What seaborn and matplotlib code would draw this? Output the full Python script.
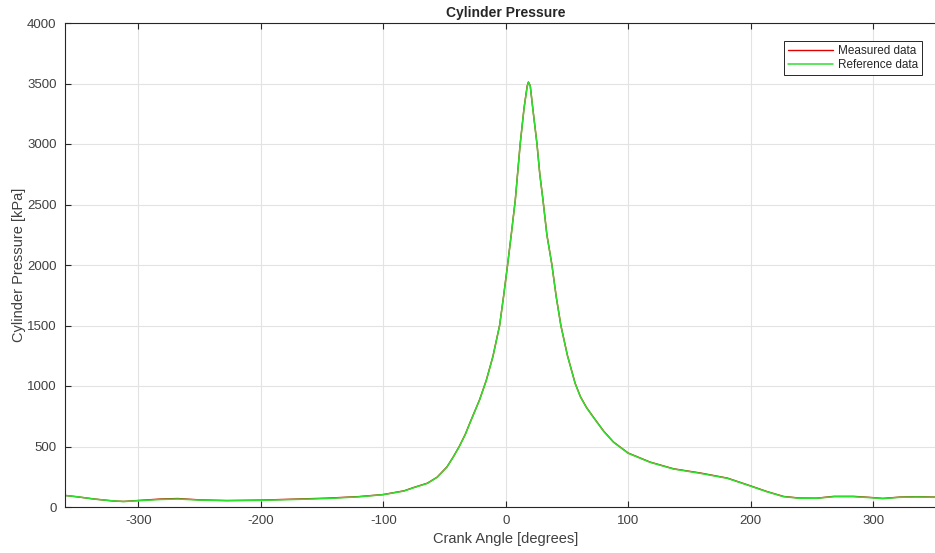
import pandas as pd
import numpy as np
import matplotlib
matplotlib.use('Agg')
import matplotlib.pyplot as plt
import seaborn as sns

# crank angle [deg] and cylinder pressure [kPa]
angle = [-360, -350, -336, -320, -312, -300, -282, -268, -250, -228, -200,
         -173, -146, -120, -100, -83, -75, -64, -56, -48, -43, -38, -33, -29,
         -21.4, -15.9, -10.5, -5, -1.8, 1.5, 4.5, 7.8, 11.8, 15, 17.5, 18.5,
         20, 22, 25.5, 27.8, 30.4, 33.6, 37.7, 41.2, 45, 50.4, 56.7, 61, 66,
         72, 80, 88, 100, 118, 137, 159, 181, 199, 213, 227, 240, 254, 268,
         284, 298, 308, 322, 336, 349, 360]

reference = [95, 85, 65, 50, 45, 52, 62, 66, 57, 53, 55,
             62, 70, 84, 102, 132, 160, 195, 245, 330, 410, 498, 600, 700,
             884, 1045, 1242, 1500, 1738, 2000, 2250, 2537, 3000, 3300, 3470, 3510,
             3480, 3300, 3000, 2750, 2537, 2248, 2000, 1738, 1500, 1250, 1020, 910, 820,
             735, 625, 535, 444, 369, 314, 278, 237, 176, 127, 85, 72, 72, 85,
             85, 77, 69, 80, 83, 80, 82]

measured = [96, 84, 66, 49, 46, 54, 66, 70, 59, 53, 57,
            65, 73, 86, 103, 134, 162, 197, 247, 332, 412, 500, 602, 702,
            886, 1047, 1244, 1502, 1740, 2002, 2252, 2539, 3002, 3302, 3480, 3512,
            3482, 3302, 3002, 2752, 2539, 2250, 2002, 1740, 1502, 1252, 1022, 912, 822,
            737, 627, 537, 446, 371, 316, 281, 239, 178, 129, 87, 74, 73, 88,
            88, 79, 71, 82, 85, 82, 83]

xticks = [-300, -200, -100, 0, 100, 200, 300]
yticks = [0, 500, 1000, 1500, 2000, 2500, 3000, 3500, 4000]

sns.set_style('whitegrid')
plt.rcParams['font.family'] = ['Liberation Sans', 'DejaVu Sans']
plt.rcParams['axes.unicode_minus'] = False

fig = plt.figure(figsize=(9.35, 5.53), dpi=100)
ax = fig.add_axes([65 / 935, 46 / 553, 881.5 / 935, 484 / 553])

meas = pd.DataFrame({'angle': angle, 'pressure': measured})
ref = pd.DataFrame({'angle': angle, 'pressure': reference})
sns.lineplot(data=meas, x='angle', y='pressure', ax=ax, color='#e00000',
             linewidth=1.0, label='Measured data')
sns.lineplot(data=ref, x='angle', y='pressure', ax=ax, color='#2ee02e',
             linewidth=1.1, label='Reference data')

ax.set_xlim(-360, 360)
ax.set_ylim(0, 4000)
ax.set_xticks(xticks)
ax.set_yticks(yticks)
ax.grid(True, color='#e3e3e3', linewidth=0.8)
for s in ax.spines.values():
    s.set_color('#262626')
    s.set_linewidth(0.8)
ax.tick_params(direction='in', length=4, width=0.8, colors='#262626',
               labelcolor='#404040', labelsize=9.5, pad=6, top=True,
               bottom=True, left=True, right=True)

ax.set_xlabel('Crank Angle [degrees]', fontsize=10.5, color='#404040', labelpad=3)
ax.set_ylabel('Cylinder Pressure [kPa]', fontsize=10.5, color='#404040', labelpad=1)
ax.set_title('Cylinder Pressure', fontsize=10, fontweight='bold', pad=4)

leg = ax.legend(loc='upper right', bbox_to_anchor=(928 / 935, 518 / 553),
                bbox_transform=fig.transFigure, fontsize=8.5, frameon=True,
                fancybox=False, handlelength=3.8, borderpad=0.35,
                labelspacing=0.15, handletextpad=0.4)
leg.get_frame().set_edgecolor('#262626')
leg.get_frame().set_linewidth(0.7)
leg.get_frame().set_alpha(1)

fig.savefig('out.png', dpi=100)
